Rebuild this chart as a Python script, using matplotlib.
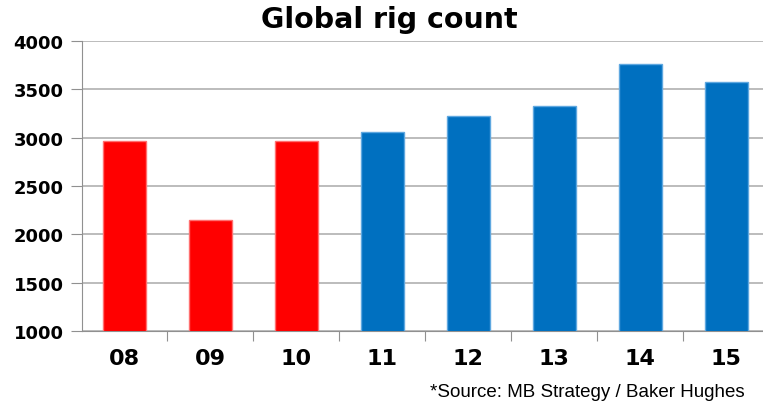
import matplotlib.pyplot as plt

# rig counts by year
years = ['08', '09', '10', '11', '12', '13', '14', '15']
rigs = [2963, 2145, 2963, 3056, 3221, 3331, 3759, 3576]
bar_colors = ['#ff0000'] * 3 + ['#0070c0'] * 5
edge_colors = ['#ff7070'] * 3 + ['#5fa8e0'] * 5

W, H = 763, 406
fig = plt.figure(figsize=(W / 100, H / 100), dpi=100)
ax = fig.add_axes([81.5 / W, 1 - 332 / H, (769 - 81.5) / W, (332 - 42) / H])

x = range(len(years))
ax.bar(x, rigs, width=0.5, color=bar_colors, edgecolor=edge_colors,
       linewidth=1, bottom=0, zorder=3)

ax.set_ylim(1000, 4000)
ax.set_xlim(-0.5, len(years) - 0.5)
ax.set_yticks(range(1000, 4001, 500))
ax.yaxis.grid(True, color='#b0b0b0', linewidth=1.2, zorder=0)

for side in ['top', 'right']:
    ax.spines[side].set_visible(False)
ax.spines['left'].set_color('#909090')
ax.spines['bottom'].set_color('#909090')

# year labels between boundary ticks
ax.set_xticks([i + 0.5 for i in range(len(years) - 1)])
ax.set_xticklabels([])
ax.set_xticks(list(x), minor=True)
ax.set_xticklabels(years, minor=True, fontsize=16, fontweight='bold')
ax.tick_params(axis='x', which='minor', length=0, pad=12)
ax.tick_params(axis='x', which='major', length=7, color='#909090')
ax.tick_params(axis='y', length=8, color='#909090', labelsize=13, pad=5)
for lbl in ax.get_yticklabels():
    lbl.set_fontweight('bold')

fig.text(0.51, 1 - 20 / H, 'Global rig count', ha='center', va='center',
         fontsize=20.5, fontweight='bold')
fig.text(745 / W, 1 - 393 / H, '*Source: MB Strategy / Baker Hughes',
         ha='right', va='center', fontsize=13.5, family='Liberation Sans')

fig.savefig('out.png', dpi=100)
